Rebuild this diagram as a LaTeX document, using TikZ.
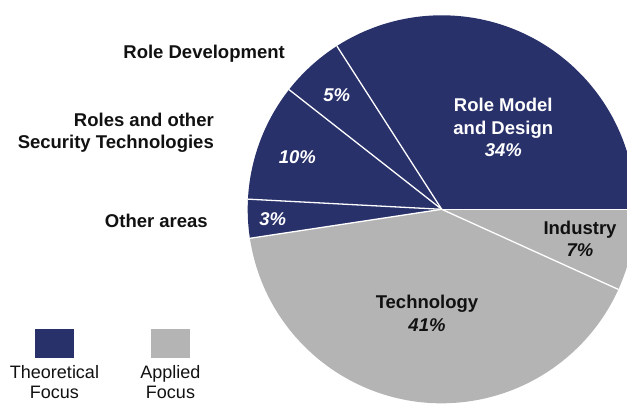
\documentclass[tikz,border=0pt]{standalone}
\usepackage{fontspec}
\setmainfont{Liberation Sans}
\usepackage{tikz}
\usetikzlibrary{positioning}
\definecolor{theo}{HTML}{29316B}
\definecolor{appl}{HTML}{B4B4B4}
\definecolor{ink}{HTML}{111111}
\tikzset{
  sep/.style={draw=white, line width=1.3pt},
  cat/.style={text=ink, font=\fontsize{18.5}{22.3}\selectfont\bfseries, align=right, inner sep=0pt},
  inlab/.style={text=white, font=\fontsize{18.5}{22.3}\selectfont\bfseries, align=center, inner sep=0pt},
  outlab/.style={text=ink, font=\fontsize{18.5}{22.3}\selectfont\bfseries, align=center, inner sep=0pt},
  key/.style={minimum width=39pt, minimum height=29pt, inner sep=0pt},
  keylab/.style={text=ink, font=\fontsize{18}{20}\selectfont, align=center, inner sep=0pt},
}
\begin{document}
\begin{tikzpicture}[x=1pt,y=1pt]
  \def\r{194}
  \coordinate (O) at (0,0);
  \useasboundingbox (-441.7,-195.7) rectangle (185.3,209.3);
  \clip (-441.7,-195.7) rectangle (185.3,209.3);

  % slices
  \foreach \a/\b/\c in {0/122.7/theo,122.7/141.9/theo,141.9/177/theo,177/188.6/theo,188.6/335.6/appl,335.6/360/appl}
    \fill[\c] (O) -- (\a:\r) arc[start angle=\a, end angle=\b, radius=\r] -- cycle;
  \foreach \a in {0,122.7,141.9,177,188.6,335.6}
    \draw[sep] (O) -- (\a:\r);

  % labels in the pie
  \node[inlab] (design) at (61.6,81.8) {Role Model\\and Design\\\textit{34\%}};
  \node[inlab] (dev) at (-105,114.3) {\textit{5\%}};
  \node[inlab] (sec) at (-144.4,52.6) {\textit{10\%}};
  \node[inlab] (other) at (-169,-10) {\textit{3\%}};
  \node[outlab] (industry) at (138.3,-29.9) {Industry\\\textit{7\%}};
  \node[outlab] (tech) at (-14.7,-104) {Technology\\\textit{41\%}};

  % names on the left
  \node[cat, anchor=east] (devname) at (-156.7,155.3) {Role Development};
  \node[cat, anchor=east] (secname) at (-227.7,76.4) {Roles and other\\Security Technologies};
  \node[cat, anchor=east] (othername) at (-233.7,-11.4) {Other areas};

  % legend
  \node[key, fill=theo] (keyT) at (-387.2,-134.4) {};
  \node[key, fill=appl] (keyA) at (-271.2,-134.4) {};
  \node[keylab, below=7pt of keyT] (keyTlab) {Theoretical\\Focus};
  \node[keylab, below=7pt of keyA] (keyAlab) {Applied\\Focus};
\end{tikzpicture}
\end{document}
